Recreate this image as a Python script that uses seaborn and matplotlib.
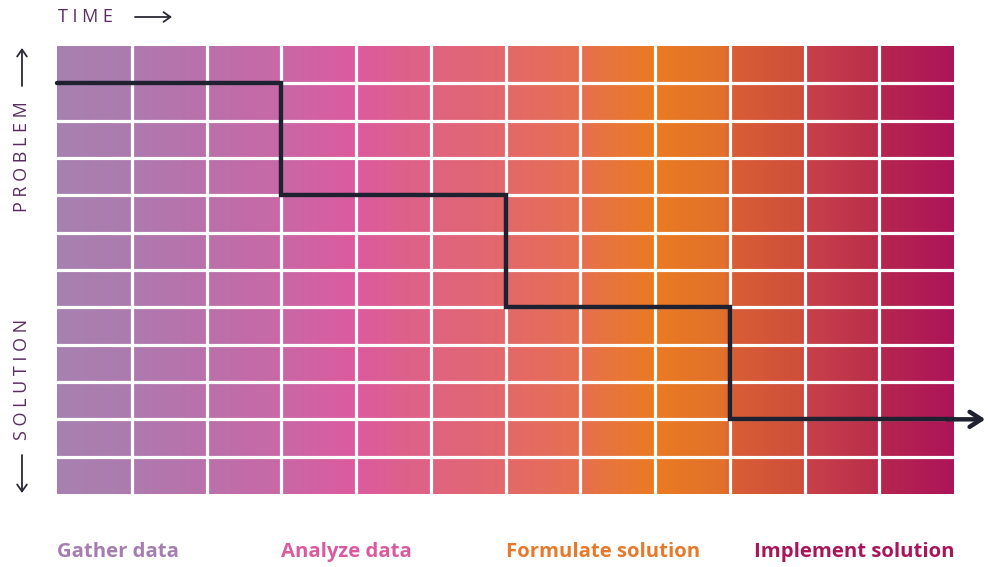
import numpy as np
import matplotlib.pyplot as plt
import matplotlib.colors as mcolors
import seaborn as sns

# Grid / data
n_cols = 12
n_rows = 12
step_x = [0, 3, 3, 6, 6, 9, 9, 12.0]
step_y = [1, 1, 4, 4, 7, 7, 10, 10]
arrow_end_x = 12.42

stage_labels = ["Gather data", "Analyze data", "Formulate solution", "Implement solution"]
stage_x = [0, 3, 6, 12]
stage_ha = ["left", "left", "left", "right"]
stage_colors = ["#A67DB0", "#DB5A9E", "#E8792A", "#A8155A"]

grad_pos = [0.0, 0.083, 0.168, 0.25, 0.335, 0.415, 0.5, 0.58, 0.668, 0.745, 0.752,
            0.83, 0.836, 0.915, 0.92, 1.0]
grad_colors = ["#A681B0", "#AD7AAE", "#BA70AA", "#C967A6", "#DC5A9E", "#DE6382", "#E3686A",
               "#E56F50", "#EA7A22", "#E0702A", "#D85D35", "#CE4E3A", "#C8404A", "#B92D4A",
               "#B5264F", "#AC1458"]

LINE = "#1F2030"
DARK = "#5A2C60"

sns.set_theme(style="white")
plt.rcParams["font.family"] = ["Open Sans", "DejaVu Sans"]

cmap = mcolors.LinearSegmentedColormap.from_list("grad", list(zip(grad_pos, grad_colors)), N=1024)

sub = 40  # sub-columns per cell for smooth gradient
grad = np.tile(np.linspace(0, 1, n_cols * sub), (n_rows, 1))

fig = plt.figure(figsize=(9.88, 5.67), dpi=100)
ax = fig.add_axes([57 / 988, 73 / 567, 897 / 988, 448 / 567])
sns.heatmap(grad, cmap=cmap, cbar=False, ax=ax, xticklabels=False, yticklabels=False,
            vmin=0, vmax=1, rasterized=True)

for c in range(1, n_cols):
    ax.axvline(c * sub, color="white", lw=2.3)
for r in range(1, n_rows):
    ax.axhline(r, color="white", lw=2.3)
for s in ax.spines.values():
    s.set_visible(False)

# step line
ax.plot([x * sub for x in step_x], step_y, color=LINE, lw=3.2, clip_on=False,
        solid_capstyle="round", solid_joinstyle="miter", zorder=5)
ax.annotate("", xy=(arrow_end_x * sub, 10), xytext=(11.9 * sub, 10),
            arrowprops=dict(arrowstyle="->,head_length=0.7,head_width=0.45", lw=3.2, color=LINE,
                            shrinkA=0, shrinkB=0),
            annotation_clip=False, zorder=6)

# stage labels
for lab, x, ha, col in zip(stage_labels, stage_x, stage_ha, stage_colors):
    ax.text(x * sub, 13.55, lab, ha=ha, va="center", color=col, fontsize=14.6,
            fontweight="bold", clip_on=False)

# axis titles
fig.text(58 / 988, 1 - 17 / 567, "T I M E", color=DARK, fontsize=13, ha="left", va="center")
fig.text(22 / 988, 1 - 157 / 567, "P R O B L E M", color=DARK, fontsize=13, rotation=90,
         ha="center", va="center")
fig.text(22 / 988, 1 - 379 / 567, "S O L U T I O N", color=DARK, fontsize=13, rotation=90,
         ha="center", va="center")


def thin_arrow(x0, y0, x1, y1):
    fig.add_artist(plt.matplotlib.patches.FancyArrowPatch(
        (x0 / 988, 1 - y0 / 567), (x1 / 988, 1 - y1 / 567), transform=fig.transFigure,
        arrowstyle="->,head_length=5,head_width=3.5", lw=1.3, color="#2A2A35",
        shrinkA=0, shrinkB=0))


thin_arrow(135, 17, 172, 17)
thin_arrow(22, 86, 22, 48)
thin_arrow(22, 455, 22, 493)

fig.savefig("out.png", dpi=100)
